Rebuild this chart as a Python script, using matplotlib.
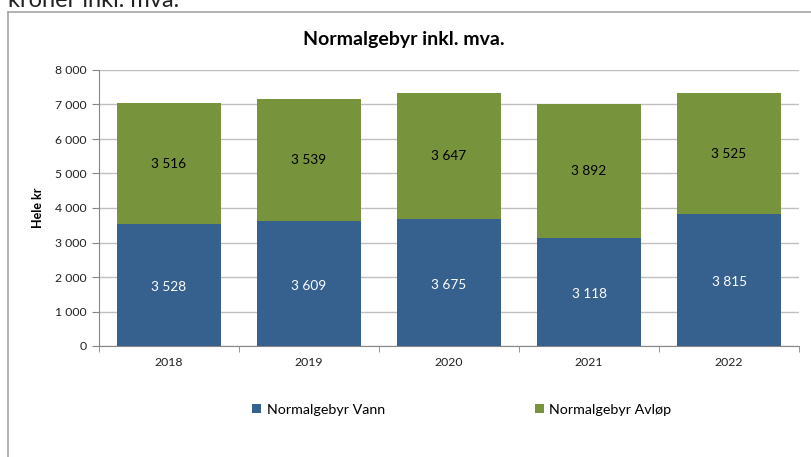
import matplotlib
matplotlib.use("Agg")
import matplotlib.pyplot as plt
from matplotlib.lines import Line2D
import numpy as np

years = ["2018", "2019", "2020", "2021", "2022"]
vann = [3528, 3609, 3675, 3118, 3815]
avlop = [3516, 3539, 3647, 3892, 3525]
yticks = [0, 1000, 2000, 3000, 4000, 5000, 6000, 7000, 8000]

blue = "#36608E"
green = "#77933C"
plt.rcParams['font.family'] = ['Lato', 'DejaVu Sans']

W, H = 811, 457
fig = plt.figure(figsize=(W/100, H/100), dpi=100)

# frame of the chart (left and top edges visible)
fig.add_artist(Line2D([8/W, 8/W], [0, (H-12)/H], color="#A6A6A6", lw=1.2, transform=fig.transFigure))
fig.add_artist(Line2D([8/W, 1], [(H-12)/H, (H-12)/H], color="#A6A6A6", lw=1.2, transform=fig.transFigure))
# partially visible text above
fig.text(8/W, (H-7)/H, "kroner inkl. mva.", fontsize=17, ha="left", va="baseline", color="#222222")

ax = fig.add_axes([99/W, (H-346)/H, 700/W, 276/H])
x = np.arange(len(years))
bw = 0.74
ax.bar(x, vann, bw, color=blue, label="Normalgebyr Vann", zorder=3)
ax.bar(x, avlop, bw, bottom=vann, color=green, label="Normalgebyr Avløp", zorder=3)

def fmt(v):
    return f"{v:,}".replace(",", " ")

for i in range(len(years)):
    ax.text(x[i], vann[i]/2 - 60, fmt(vann[i]), ha="center", va="center", color="white", fontsize=9.8, zorder=4)
    ax.text(x[i], vann[i] + avlop[i]/2, fmt(avlop[i]), ha="center", va="center", color="black", fontsize=9.8, zorder=4)

ax.set_xlim(-0.5, len(years)-0.5)
ax.set_ylim(0, 8000)
ax.set_yticks(yticks)
ax.set_yticklabels([fmt(v) for v in yticks], fontsize=8.8, color="#222222")
ax.set_xticks(x)
ax.set_xticklabels(years, fontsize=8.8, color="#222222")
ax.set_xticks(np.arange(-0.5, len(years)), minor=True)
ax.tick_params(axis="x", which="major", length=0, pad=8)
ax.tick_params(axis="x", which="minor", length=4, color="#868686", direction="out")
ax.tick_params(axis="y", length=5, color="#868686", direction="out", pad=4)
ax.yaxis.grid(True, color="#BFBFBF", lw=1, zorder=0)
for s in ["top", "right"]:
    ax.spines[s].set_visible(False)
for s in ["left", "bottom"]:
    ax.spines[s].set_color("#868686")
ax.set_ylabel("Hele kr", fontsize=9, fontweight="bold", labelpad=8)

fig.text(404/W, (H-40)/H, "Normalgebyr inkl. mva.", ha="center", va="center", fontsize=14, fontweight="bold")

handles, labels = ax.get_legend_handles_labels()
fig.legend(handles, labels, loc="center", bbox_to_anchor=(462/W, (H-410)/H), ncol=2,
           frameon=False, fontsize=10.3, handlelength=0.6, handleheight=0.6,
           handletextpad=0.4, columnspacing=10.5)

fig.savefig("out.png", dpi=100)
